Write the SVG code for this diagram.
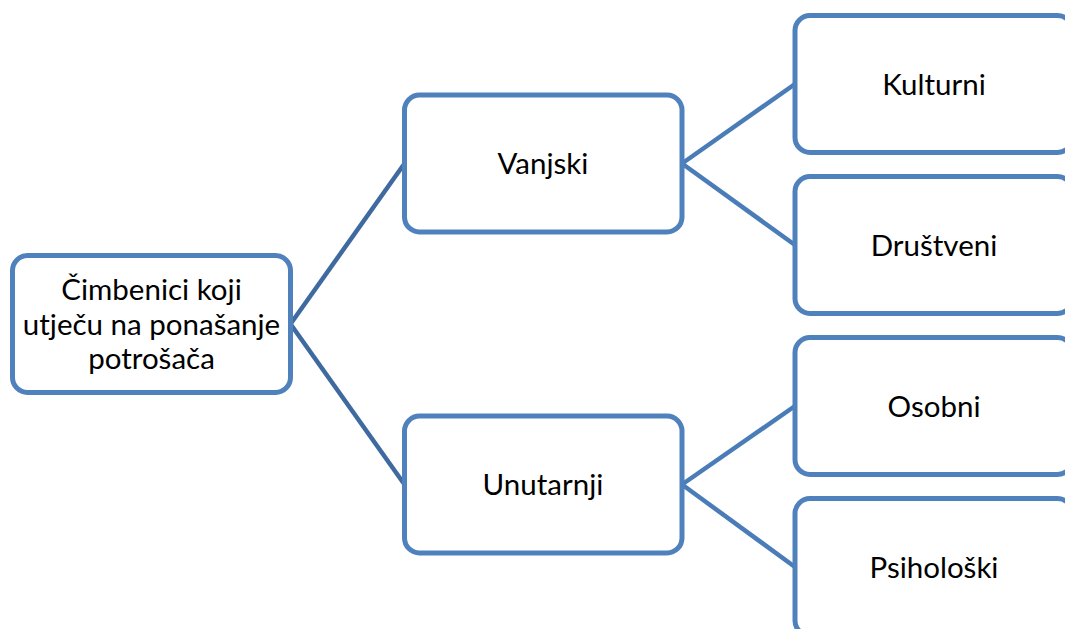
<svg xmlns="http://www.w3.org/2000/svg" width="1065" height="629" viewBox="0 0 1065 629">
<style>
.box{fill:#fff;stroke:#4F81BD;stroke-width:5}
.t{font-family:Lato,"Liberation Sans",sans-serif;font-size:29.5px;fill:#000;text-anchor:middle}
.c1{stroke:#3F6AA0;stroke-width:4.5;fill:none}
.c2{stroke:#4A7CB8;stroke-width:4.5;fill:none}
</style>
<rect width="1065" height="629" fill="#fff"/>
<g id="connectors">
<line class="c1" x1="290.5" y1="324" x2="404.5" y2="163.5"/>
<line class="c1" x1="290.5" y1="324" x2="404.5" y2="484.5"/>
<line class="c2" x1="682" y1="163.5" x2="795" y2="84"/>
<line class="c2" x1="682" y1="163.5" x2="795" y2="245"/>
<line class="c2" x1="682" y1="484.5" x2="795" y2="406"/>
<line class="c2" x1="682" y1="484.5" x2="795" y2="567"/>
</g>
<g id="root">
<rect class="box" x="12.5" y="255.5" width="278" height="137" rx="15"/>
<text class="t" x="151.5" y="300">Čimbenici koji</text>
<text class="t" x="151.5" y="334.5">utječu na ponašanje</text>
<text class="t" x="151.5" y="369">potrošača</text>
</g>
<g id="vanjski">
<rect class="box" x="404.5" y="95" width="277.5" height="137" rx="15"/>
<text class="t" x="543" y="174">Vanjski</text>
</g>
<g id="unutarnji">
<rect class="box" x="404.5" y="416" width="277.5" height="137" rx="15"/>
<text class="t" x="543" y="495">Unutarnji</text>
</g>
<g id="kulturni">
<rect class="box" x="795" y="15.5" width="277.5" height="137" rx="15"/>
<text class="t" x="934" y="94.5">Kulturni</text>
</g>
<g id="drustveni">
<rect class="box" x="795" y="176.5" width="277.5" height="137" rx="15"/>
<text class="t" x="934" y="255.5">Društveni</text>
</g>
<g id="osobni">
<rect class="box" x="795" y="337.5" width="277.5" height="137" rx="15"/>
<text class="t" x="934" y="416.5">Osobni</text>
</g>
<g id="psiholoski">
<rect class="box" x="795" y="498.5" width="277.5" height="137" rx="15"/>
<text class="t" x="934" y="577.5">Psihološki</text>
</g>
</svg>
